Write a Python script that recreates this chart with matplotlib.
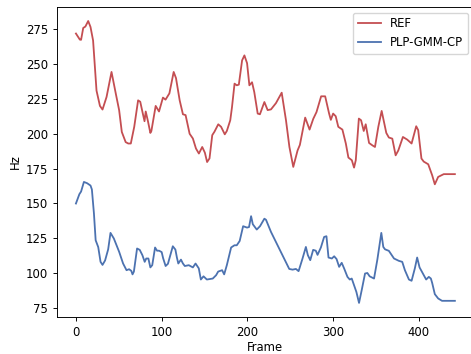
import matplotlib
matplotlib.use("Agg")
import matplotlib.pyplot as plt

# pitch contours
ref_frames = [0, 4.6, 6, 8.5, 11, 14.3, 17, 20, 24, 28, 31, 35.7, 41.5, 46.5, 50.4,
              53.5, 58, 61, 64, 68, 72.5, 75, 78, 80, 81.4, 84, 86.8, 88, 93, 96.9,
              101.5, 104.5, 109, 114, 116.7, 121, 124.8, 127.9, 132.6, 136.4, 140,
              143.4, 147.3, 150.4, 153, 155.8, 159, 161.6, 166, 169.3, 173.6, 176,
              180, 182, 185, 187.6, 190, 193.8, 196.5, 199.6, 202.3, 205.4, 208,
              212, 214.6, 219.8, 223.6, 227.5, 233.3, 240, 245, 249, 253.5, 258.5,
              261.2, 267.4, 272.5, 276.8, 280.6, 286, 290.7, 295.3, 297.3, 300,
              303, 306, 310.8, 314.8, 317.8, 321.8, 324.4, 326.4, 330, 332.6,
              335.7, 338, 341.9, 345.7, 348.8, 352.7, 356.6, 359.3, 362, 365, 369,
              372.9, 376, 381.4, 386.4, 391.5, 396.9, 399.2, 403, 405.7, 410.9,
              415.5, 418.6, 422.5, 426.4, 429, 434, 442]
ref_hz = [272, 267.6, 267.5, 276, 277, 281, 276.7, 267, 231, 220, 217.4, 226.4,
          244.4, 228.8, 216.9, 201.3, 194, 193, 193, 205, 224, 223, 214.5, 209,
          216, 209, 200.6, 202, 220, 216, 226, 224.5, 229, 244.4, 240, 224, 214,
          213.4, 200, 196.6, 189.4, 185.8, 190.5, 186.4, 179.7, 182.3, 199, 201.5,
          206.8, 205, 199.6, 202, 209.7, 219, 236, 234.8, 235.3, 252.7, 256.3,
          250.7, 234.8, 237, 230, 214.5, 214, 222.8, 217, 217.5, 222, 229.5,
          209.7, 190.5, 176.2, 188, 192, 211.6, 203, 210.7, 215.6, 226.9, 226.9,
          214.5, 210, 214.5, 212.6, 205, 203, 193, 182.9, 181, 175.7, 181, 210.9,
          209.7, 202, 206.8, 193.4, 191.7, 190.5, 205, 216.4, 208.5, 200.6, 197.3,
          196.5, 184.5, 188, 197.7, 195.8, 193, 205.4, 202.6, 182.2, 180, 178.1,
          170.2, 163.7, 169, 170.2, 171, 171, 171]

est_frames = [0, 4, 6, 9.3, 13, 17, 18.6, 21, 23, 26, 28.7, 31, 34, 37.6, 40.3,
              44.2, 50.4, 55, 59, 62, 64.6, 66, 67.6, 71.3, 74.4, 77.5, 80.2, 82,
              84.5, 86.8, 89, 92.3, 94.6, 97, 100, 101.7, 104.6, 107.3, 113, 116,
              117.8, 119.4, 122.5, 124.8, 127, 131.6, 136.4, 139.5, 143.3, 145.7,
              148.8, 152.7, 159.6, 163.5, 165.9, 170.5, 172.9, 176, 181, 184.9,
              187.6, 191, 195, 199.6, 201.9, 204.3, 206.3, 210.9, 214.7, 219.8,
              221.7, 227.5, 233.3, 239, 244.2, 248.8, 252.7, 256.6, 259.7, 264.3,
              268.2, 270.5, 273.3, 276.7, 279.8, 281.8, 285.7, 289.5, 292.2, 294.6,
              298.5, 301.2, 304, 307, 310, 312.8, 316.7, 319.4, 321.7, 324.4, 327.1,
              330.2, 333.3, 337.2, 339.9, 342.6, 347.7, 351.6, 356.2, 358.5, 360.5,
              365, 371, 376.7, 380.6, 383.7, 388.4, 391.5, 395.3, 398, 400.8, 404.7,
              408.5, 411.6, 414, 415.5, 418.6, 422.5, 427, 434.9, 442]
est_hz = [149.9, 156.6, 158.5, 165.4, 164.5, 162.8, 160, 142.7, 123.5, 118.6, 108,
          105.8, 109, 117, 128.8, 124.8, 115.2, 106.8, 102, 102.7, 101.5, 99, 101,
          117.6, 116.6, 112.8, 108, 110.4, 110.4, 104, 105.6, 118.3, 116, 116, 115,
          110.6, 105, 106.6, 119.2, 116.8, 111, 106.8, 109.6, 106.8, 105, 105.6,
          104, 106.8, 103.3, 95.3, 97.6, 95.3, 96, 98.4, 101, 102, 99, 105.6,
          118.3, 119.9, 119.9, 123, 133.6, 132.6, 133, 140.8, 135, 131.2, 133.6,
          139, 138.2, 129.5, 122.3, 115.2, 108.7, 102.9, 102.4, 102.9, 101.3,
          110.4, 118.7, 112.8, 109.2, 116.6, 116, 113, 118.3, 125.9, 126.4, 111.1,
          110.4, 112, 110, 104.4, 107.3, 103.3, 97.2, 95.3, 96, 91.2, 86.4, 78.5,
          87.6, 99.6, 100, 97.6, 96, 109.7, 128.8, 118.7, 117, 115.9, 110.4, 108.7,
          108, 102, 95.3, 94.4, 103.3, 111.1, 104, 99.6, 95.3, 97.2, 96, 92.9,
          84.8, 81.7, 80, 80, 80]

fs = 8.4
fig = plt.figure(figsize=(4.71, 3.54), dpi=100)
ax = fig.add_axes([0.121, 0.1045, 0.885, 0.876])

ax.plot(ref_frames, ref_hz, color='#C44E52', lw=1.3, label='REF')
ax.plot(est_frames, est_hz, color='#4C72B0', lw=1.3, label='PLP-GMM-CP')

ax.set_xticks([0, 100, 200, 300, 400])
ax.set_yticks([75, 100, 125, 150, 175, 200, 225, 250, 275])
ax.tick_params(labelsize=fs, length=2.9, width=0.67)
for s in ax.spines.values():
    s.set_linewidth(0.67)
ax.set_xlabel('Frame', fontsize=fs, labelpad=1.5)
ax.set_ylabel('Hz', fontsize=fs, labelpad=3)
ax.legend(loc='upper right', fontsize=fs)

fig.savefig('out.png', dpi=100)
